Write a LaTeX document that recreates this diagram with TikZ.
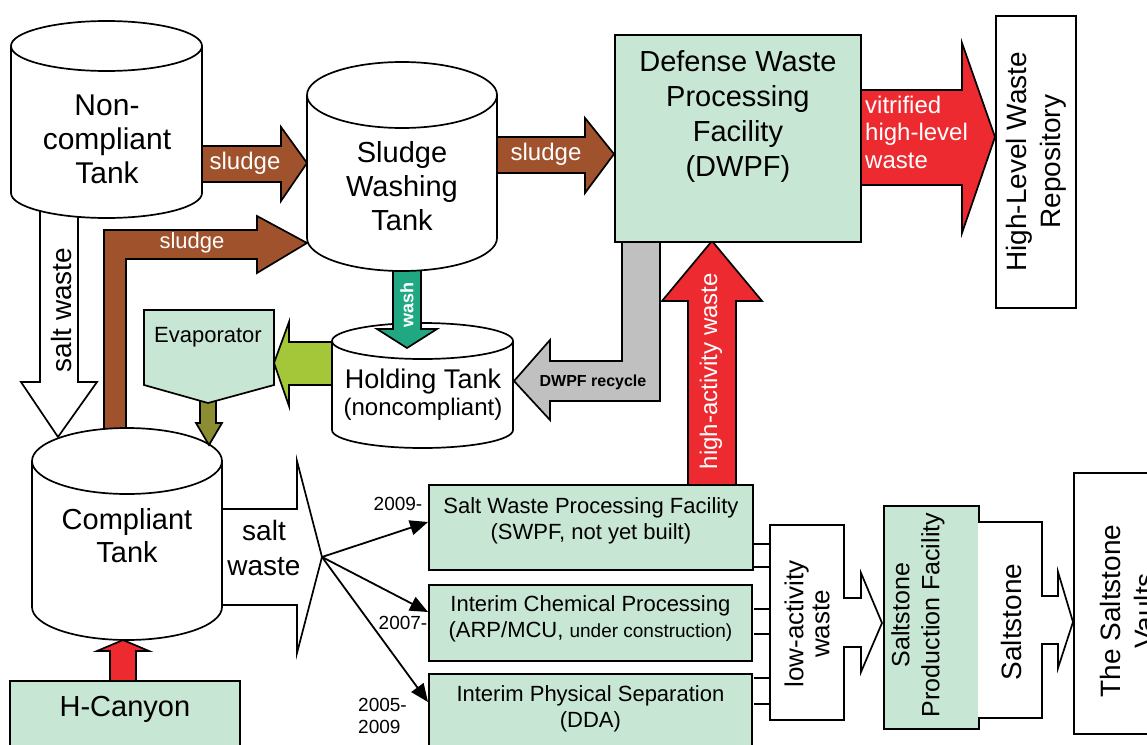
\documentclass[tikz,border=0pt]{standalone}
\usepackage{fontspec}
\setmainfont{Liberation Sans}
\usepackage{xcolor}
\usetikzlibrary{arrows.meta, calc}
\definecolor{srsgreen}{HTML}{C8E6D4}
\definecolor{sludgebrown}{HTML}{A0522D}
\definecolor{hlwred}{HTML}{EC2A30}
\definecolor{washteal}{HTML}{20A882}
\definecolor{evapgreen}{HTML}{A4C639}
\definecolor{evapolive}{HTML}{8C8C33}
\definecolor{recyclegrey}{HTML}{C0C0C0}

\newcommand{\fs}[2]{\fontsize{#1}{#2}\selectfont}
% tank: left x, right x, top centre y, bottom centre y, rim half height
\newcommand{\drawtank}[5]{%
  \path[fill=white] (#1,#3) -- (#1,#4)
    arc[start angle=180, end angle=0, x radius={(#2-#1)/2}, y radius=#5]
    -- (#2,#3)
    arc[start angle=0, end angle=-180, x radius={(#2-#1)/2}, y radius=#5] -- cycle;
  \draw[outl] (#1,#3) -- (#1,#4)
    arc[start angle=180, end angle=0, x radius={(#2-#1)/2}, y radius=#5] -- (#2,#3);
  \draw[outl] ({(#1+#2)/2},#3) ellipse[x radius={(#2-#1)/2}, y radius=#5];
}

\begin{document}
\begin{tikzpicture}[x=1pt, y=-1pt,
    outl/.style={draw, line width=1.7pt},
    flow/.style={outl, fill=#1},
    facility/.style={draw, line width=1.8pt, fill=srsgreen, anchor=north west, inner sep=0pt},
    whitebox/.style={draw, line width=1.7pt, fill=white, anchor=north west, inner sep=0pt},
    onarrow/.style={text=white, inner sep=0pt},
    plain/.style={align=center, inner sep=0pt},
    fanarr/.style={-{Triangle[length=18pt, width=15pt]}, line width=1.8pt},
    pipe/.style={line width=1.7pt},
  ]
  \useasboundingbox (0,0) rectangle (1147,744);
  \clip (0,0) rectangle (1147,744);

  % flows that run in behind tanks and boxes
  \draw[flow=white] (40,200) -- (40,382) -- (21,382) -- (58,437) -- (97,382) -- (78,382) -- (78,200) -- cycle;
  \draw[flow=sludgebrown] (104,445) -- (104,230) -- (257,230) -- (257,216) -- (307,243) -- (257,273) -- (257,259) -- (126,259) -- (126,445) -- cycle;
  \draw[flow=sludgebrown] (195,146) -- (281,146) -- (281,127) -- (307,163) -- (281,201) -- (281,182) -- (195,182) -- cycle;
  \draw[flow=sludgebrown] (490,137) -- (585,137) -- (585,118) -- (614,154) -- (585,193) -- (585,173) -- (490,173) -- cycle;
  \draw[flow=recyclegrey] (622,230) -- (622,361) -- (550,361) -- (550,340) -- (514,381) -- (550,420) -- (550,401) -- (660,401) -- (660,230) -- cycle;
  \draw[flow=evapgreen] (345,342) -- (289,342) -- (289,322) -- (274,363) -- (289,406) -- (289,385) -- (345,385) -- cycle;
  \draw[flow=hlwred] (688,490) -- (688,301) -- (662,301) -- (712,241) -- (762,301) -- (736,301) -- (736,490) -- cycle;
  \draw[flow=hlwred] (850,90) -- (962,90) -- (962,43) -- (995,137) -- (962,233) -- (962,185) -- (850,185) -- cycle;
  \draw[flow=hlwred] (110,690) -- (110,651) -- (97,651) -- (123,640) -- (149,651) -- (136,651) -- (136,690) -- cycle;
  \draw[flow=white] (210,509) -- (297,509) -- (297,461) -- (322,557) -- (297,653) -- (297,605) -- (210,605) -- cycle;

  % tanks
  \drawtank{332}{513}{341}{430}{18}
  \draw[flow=washteal] (393,262) -- (393,329) -- (377,329) -- (407,348) -- (437,329) -- (421,329) -- (421,262) -- cycle;
  \drawtank{11}{202}{46}{193}{25}
  \drawtank{307}{497}{95}{238}{33}
  \drawtank{32}{222}{461}{607}{33}
  \draw[flow=evapolive] (200,398) -- (200,423) -- (196,423) -- (209,445) -- (222,423) -- (216,423) -- (216,398) -- cycle;
  \draw[outl, fill=srsgreen] (144,310) -- (274,310) -- (274,385) -- (208,403) -- (144,385) -- cycle;

  % facilities
  \node[facility, minimum width=246, minimum height=207] (dwpf) at (614,34) {};
  \node[whitebox, minimum width=80, minimum height=292] (hlw) at (995,15) {};
  \node[facility, minimum width=324, minimum height=85] (swpf) at (428,484) {};
  \node[facility, minimum width=323, minimum height=76] (icp) at (428,584) {};
  \node[facility, minimum width=323, minimum height=110] (ips) at (428,673) {};
  \node[facility, minimum width=230, minimum height=100] (hcanyon) at (9,680) {};
  \draw[outl, fill=white] (770,525) -- (844,525) -- (844,598) -- (861,598) -- (861,573) -- (882,623) -- (861,672) -- (861,647) -- (844,647) -- (844,720) -- (770,720) -- cycle;
  \node[facility, minimum width=95, minimum height=223] (spf) at (883,505) {};
  \draw[outl, fill=white] (978,522) -- (1042,522) -- (1042,596) -- (1058,596) -- (1058,572) -- (1073,622) -- (1058,668) -- (1058,644) -- (1042,644) -- (1042,718) -- (978,718);
  \node[whitebox, minimum width=120, minimum height=261] (vaults) at (1073,472) {};

  % texts
  \node[plain, font=\fs{30}{34}] (nctlbl) at (107,139) {Non-\\compliant\\Tank};
  \node[plain, font=\fs{29}{34}] (swtlbl) at (402,186) {Sludge\\Washing\\Tank};
  \node[plain, font=\fs{24}{27}] (htlbl) at (423,395) {{\fs{27}{27}Holding Tank}\\(noncompliant)};
  \node[plain, font=\fs{29}{33}] (ctlbl) at (127,536) {Compliant\\Tank};
  \node[plain, font=\fs{22}{26}] (evap) at (208,337) {Evaporator};
  \node[plain, font=\fs{29}{35}] (dwpflbl) at ($(dwpf.north)+(0,83)$) {Defense Waste\\Processing\\Facility\\(DWPF)};
  \node[plain, font=\fs{28}{34}, rotate=90] (hlwlbl) at (hlw.center) {High-Level Waste\\Repository};
  \node[plain, font=\fs{22}{26}] (swpflbl) at ($(swpf.north)+(0,37)$) {Salt Waste Processing Facility\\(SWPF, not yet built)};
  \node[plain, font=\fs{22}{26}] (icplbl) at ($(icp.north)+(0,35)$) {Interim Chemical Processing\\(ARP/MCU, {\fs{19}{26}under construction)}};
  \node[plain, font=\fs{22}{26}] (ipslbl) at ($(ips.north)+(0,36)$) {Interim Physical Separation\\(DDA)};
  \node[plain, font=\fs{29}{34}] (hcanyonlbl) at ($(hcanyon.north)+(0,29)$) {H-Canyon};
  \node[plain, font=\fs{25}{30}, rotate=90] (spflbl) at (918,615) {Saltstone\\Production Facility};
  \node[plain, font=\fs{26}{26}, rotate=90] (lawlbl) at (807,624) {low-activity\\waste};
  \node[plain, font=\fs{28}{34}, rotate=90] (saltstonelbl) at (1011,622) {Saltstone};
  \node[plain, font=\fs{28}{34}, rotate=90] (vaultslbl) at (1127,611) {The Saltstone\\Vaults};
  \node[plain, font=\fs{28}{35}] (saltlbl) at (264,548) {salt\\waste};
  \node[plain, font=\fs{28}{34}, rotate=90] (saltdownlbl) at (61,310) {salt waste};

  \node[onarrow, font=\fs{24}{28}] (sludgeA) at (245,163) {sludge};
  \node[onarrow, font=\fs{22}{26}] (sludgeB) at (192,243) {sludge};
  \node[onarrow, font=\fs{24}{28}] (sludgeC) at (546,154) {sludge};
  \node[onarrow, font=\fs{18}{20}\bfseries, rotate=90] (washlbl) at (407,305) {wash};
  \node[inner sep=0pt, font=\fs{16}{18}\bfseries] (recyclelbl) at (593,382) {DWPF recycle};
  \node[onarrow, font=\fs{24}{28}, rotate=90] (halbl) at (711,371) {high-activity waste};
  \node[onarrow, font=\fs{24}{27.5}, align=left, anchor=west] (vitlbl) at (865,132) {vitrified\\high-level\\waste};

  \node[plain, font=\fs{19}{22}] (y2009) at (398,504) {2009-};
  \node[plain, font=\fs{19}{22}] (y2007) at (403,623) {2007-};
  \node[plain, font=\fs{19}{22}, align=left, anchor=west] (y2005) at (358,716) {2005-\\2009};

  % salt waste split and low-activity feeds
  \coordinate (fan) at (322,557);
  \draw[fanarr] (fan) -- (swpf.west |- 0,522);
  \draw[fanarr] (fan) -- (icp.west |- 0,612);
  \draw[fanarr] (fan) -- (ips.west |- 0,702);
  \coordinate (lawin) at (770,525);
  \foreach \yy in {544,567,609,634,678,704}
    \draw[pipe] (swpf.east |- 0,\yy) -- (lawin |- 0,\yy);
\end{tikzpicture}
\end{document}
